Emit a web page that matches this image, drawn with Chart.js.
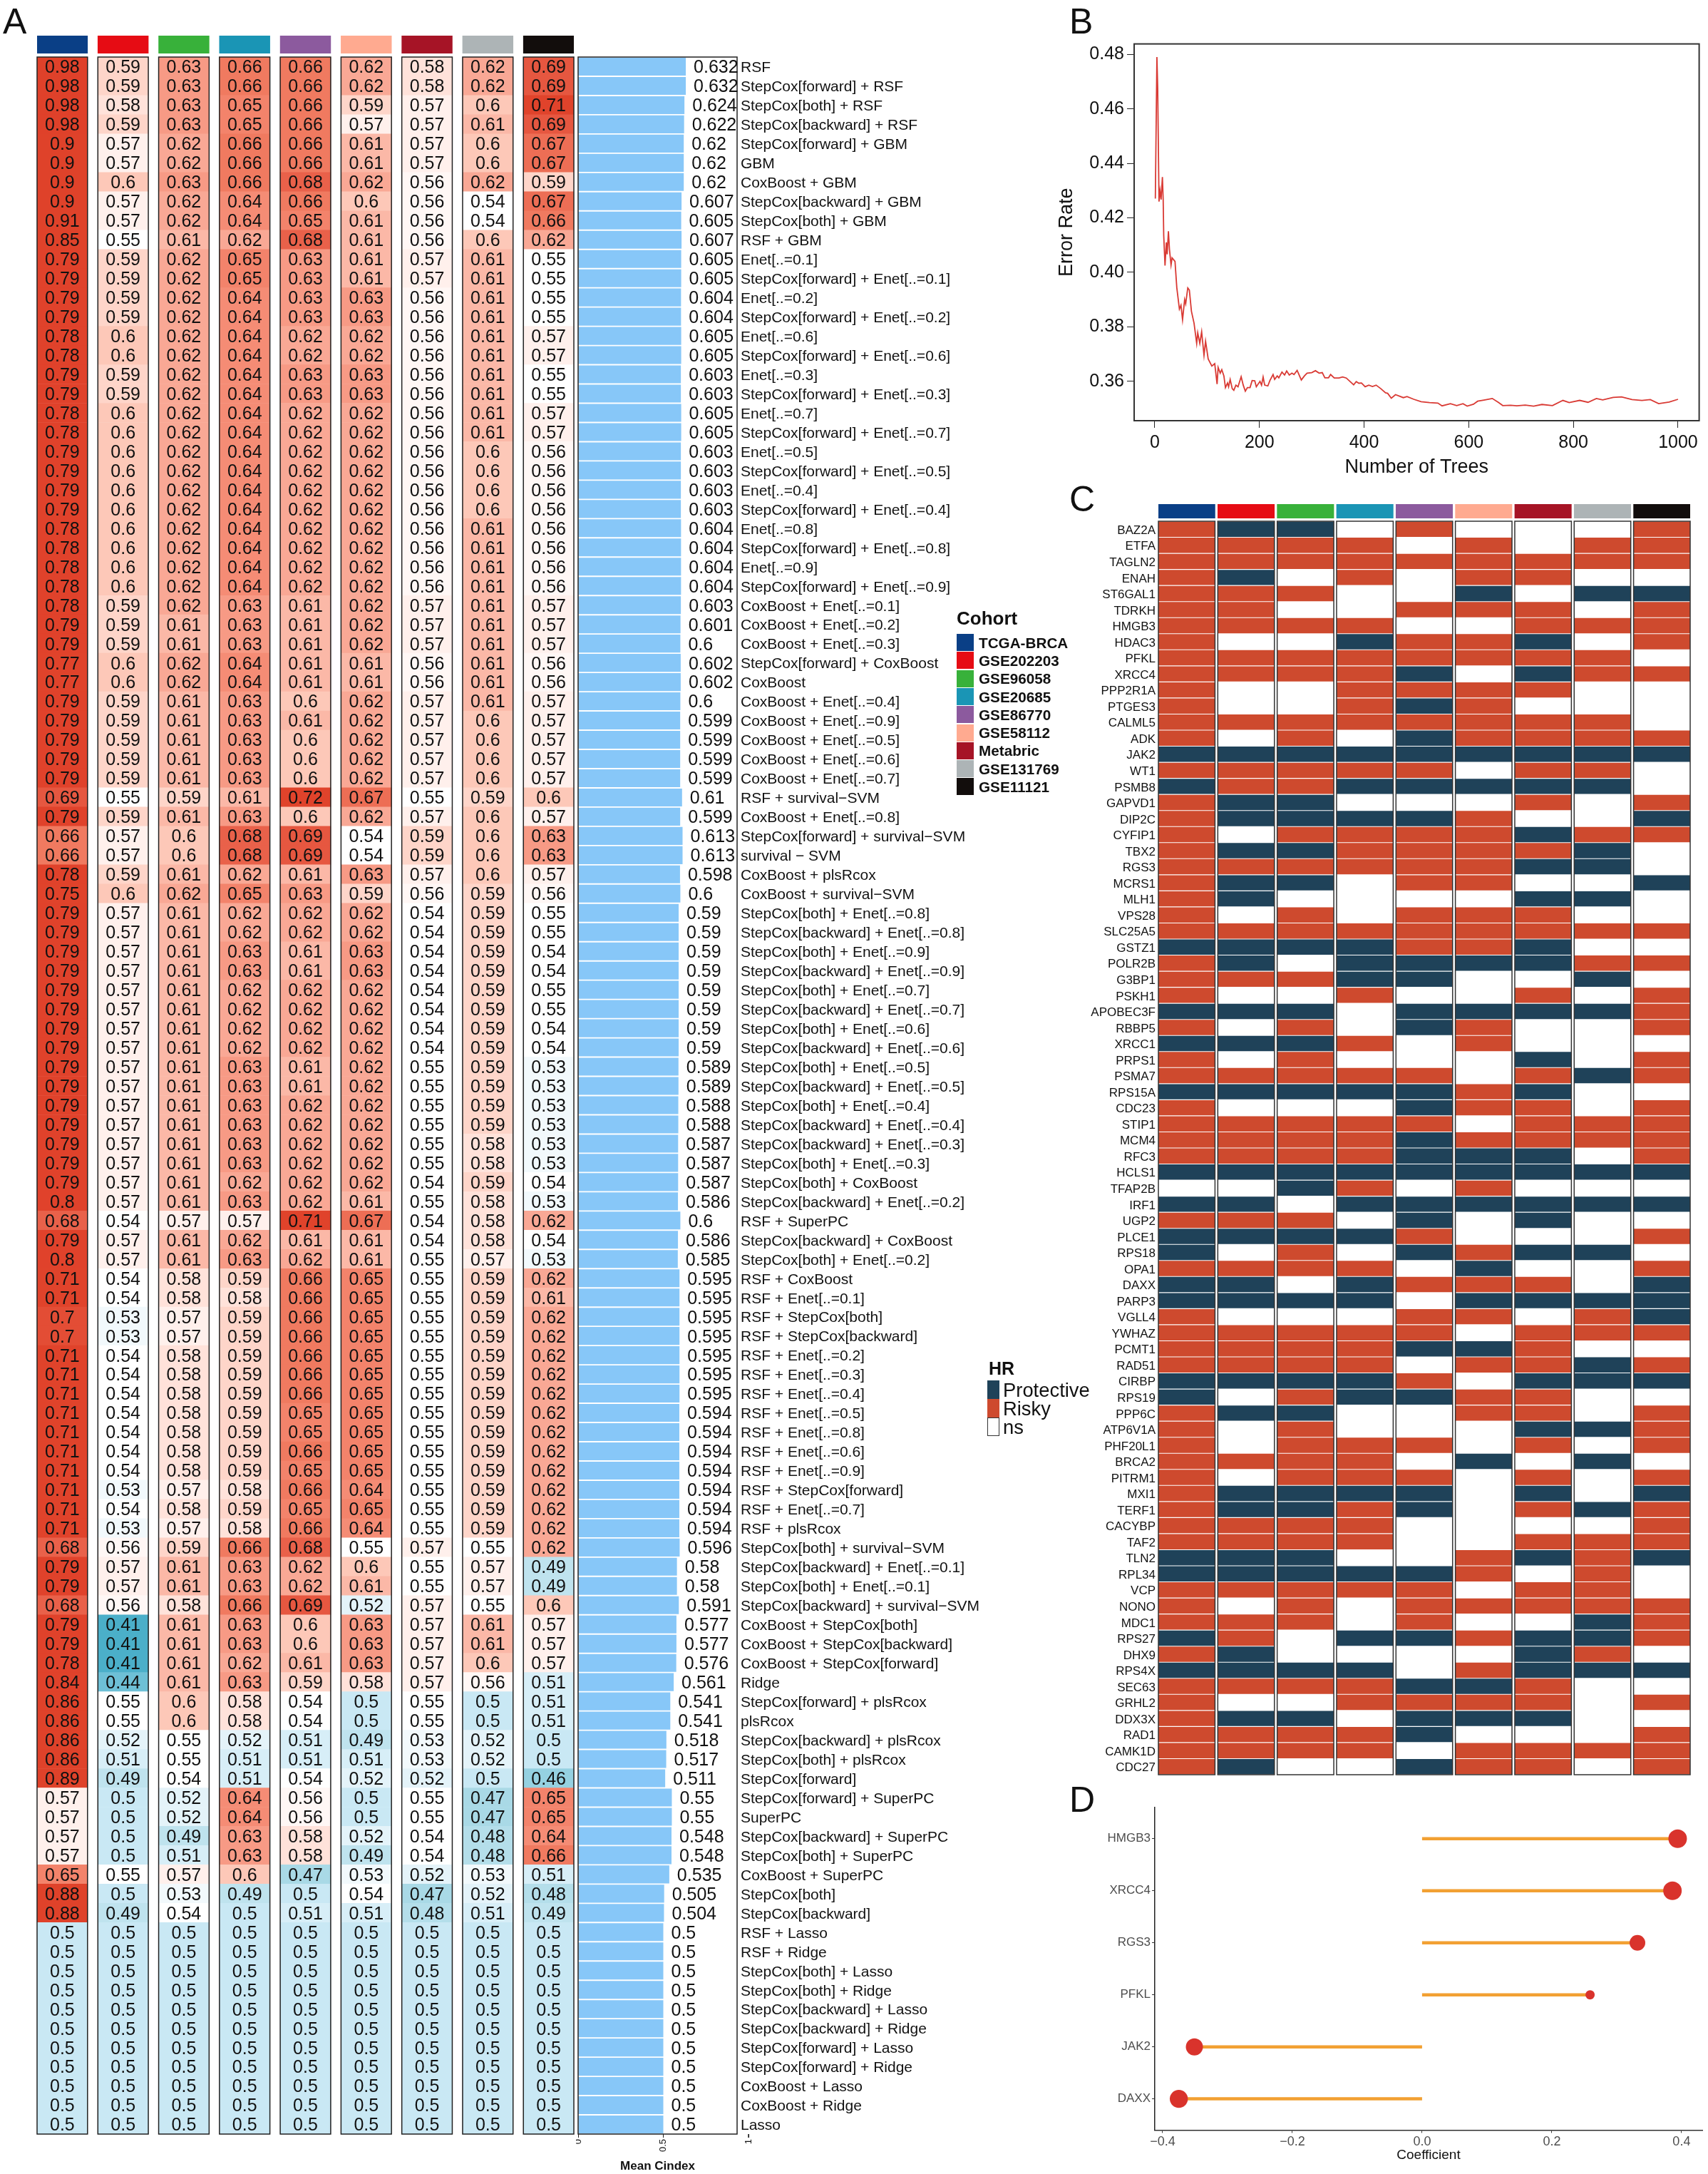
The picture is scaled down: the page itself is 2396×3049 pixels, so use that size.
<!doctype html>
<html lang="en">

<head>
    <meta charset="utf-8">
    <title>Prognostic model benchmark</title>
    <style>
        * {
            margin: 0;
            padding: 0;
            font-family: "Liberation Sans", sans-serif;
        }

        body {
            width: 2396px;
            height: 3049px;
            background: white;
            position: relative;
            overflow: hidden;
        }

        canvas {
            position: absolute;
        }

        .txt {
            position: absolute;
            white-space: nowrap;
            color: #111;
            line-height: 1;
        }

        .swatch {
            position: absolute;
        }
    </style>
</head>

<body>
    <canvas id="stripA"></canvas>
    <canvas id="heatA"></canvas>
    <canvas id="meanA"></canvas>
    <canvas id="lineB"></canvas>
    <canvas id="stripC"></canvas>
    <canvas id="heatC"></canvas>
    <canvas id="lollipopD"></canvas>

    <script src="https://cdn.jsdelivr.net/npm/chart.js"></script>

    <script>
        // panel A
        const cohorts = ['TCGA-BRCA', 'GSE202203', 'GSE96058', 'GSE20685', 'GSE86770', 'GSE58112', 'Metabric', 'GSE131769', 'GSE11121']
        const cohortColors = ['#0A3F86', '#E60C14', '#38B13A', '#1A95B5', '#8C5A9E', '#FFAA90', '#A61426', '#ADB4B6', '#120D0C']

        const models = [
            'RSF', 'StepCox[forward] + RSF', 'StepCox[both] + RSF', 'StepCox[backward] + RSF', 'StepCox[forward] + GBM', 'GBM',
            'CoxBoost + GBM', 'StepCox[backward] + GBM', 'StepCox[both] + GBM', 'RSF + GBM',
            'Enet[..=0.1]', 'StepCox[forward] + Enet[..=0.1]', 'Enet[..=0.2]', 'StepCox[forward] + Enet[..=0.2]',
            'Enet[..=0.6]', 'StepCox[forward] + Enet[..=0.6]', 'Enet[..=0.3]', 'StepCox[forward] + Enet[..=0.3]',
            'Enet[..=0.7]', 'StepCox[forward] + Enet[..=0.7]', 'Enet[..=0.5]', 'StepCox[forward] + Enet[..=0.5]',
            'Enet[..=0.4]', 'StepCox[forward] + Enet[..=0.4]', 'Enet[..=0.8]', 'StepCox[forward] + Enet[..=0.8]',
            'Enet[..=0.9]', 'StepCox[forward] + Enet[..=0.9]', 'CoxBoost + Enet[..=0.1]', 'CoxBoost + Enet[..=0.2]',
            'CoxBoost + Enet[..=0.3]', 'StepCox[forward] + CoxBoost', 'CoxBoost', 'CoxBoost + Enet[..=0.4]', 'CoxBoost + Enet[..=0.9]',
            'CoxBoost + Enet[..=0.5]', 'CoxBoost + Enet[..=0.6]', 'CoxBoost + Enet[..=0.7]', 'RSF + survival−SVM', 'CoxBoost + Enet[..=0.8]',
            'StepCox[forward] + survival−SVM', 'survival − SVM', 'CoxBoost + plsRcox', 'CoxBoost + survival−SVM',
            'StepCox[both] + Enet[..=0.8]', 'StepCox[backward] + Enet[..=0.8]', 'StepCox[both] + Enet[..=0.9]', 'StepCox[backward] + Enet[..=0.9]',
            'StepCox[both] + Enet[..=0.7]', 'StepCox[backward] + Enet[..=0.7]', 'StepCox[both] + Enet[..=0.6]', 'StepCox[backward] + Enet[..=0.6]',
            'StepCox[both] + Enet[..=0.5]', 'StepCox[backward] + Enet[..=0.5]', 'StepCox[both] + Enet[..=0.4]', 'StepCox[backward] + Enet[..=0.4]',
            'StepCox[backward] + Enet[..=0.3]', 'StepCox[both] + Enet[..=0.3]', 'StepCox[both] + CoxBoost', 'StepCox[backward] + Enet[..=0.2]',
            'RSF + SuperPC', 'StepCox[backward] + CoxBoost', 'StepCox[both] + Enet[..=0.2]', 'RSF + CoxBoost', 'RSF + Enet[..=0.1]',
            'RSF + StepCox[both]', 'RSF + StepCox[backward]', 'RSF + Enet[..=0.2]', 'RSF + Enet[..=0.3]', 'RSF + Enet[..=0.4]', 'RSF + Enet[..=0.5]',
            'RSF + Enet[..=0.8]', 'RSF + Enet[..=0.6]', 'RSF + Enet[..=0.9]', 'RSF + StepCox[forward]', 'RSF + Enet[..=0.7]', 'RSF + plsRcox',
            'StepCox[both] + survival−SVM', 'StepCox[backward] + Enet[..=0.1]', 'StepCox[both] + Enet[..=0.1]', 'StepCox[backward] + survival−SVM',
            'CoxBoost + StepCox[both]', 'CoxBoost + StepCox[backward]', 'CoxBoost + StepCox[forward]', 'Ridge', 'StepCox[forward] + plsRcox', 'plsRcox',
            'StepCox[backward] + plsRcox', 'StepCox[both] + plsRcox', 'StepCox[forward]', 'StepCox[forward] + SuperPC', 'SuperPC',
            'StepCox[backward] + SuperPC', 'StepCox[both] + SuperPC', 'CoxBoost + SuperPC', 'StepCox[both]', 'StepCox[backward]',
            'RSF + Lasso', 'RSF + Ridge', 'StepCox[both] + Lasso', 'StepCox[both] + Ridge', 'StepCox[backward] + Lasso', 'StepCox[backward] + Ridge',
            'StepCox[forward] + Lasso', 'StepCox[forward] + Ridge', 'CoxBoost + Lasso', 'CoxBoost + Ridge', 'Lasso'
        ]

        // one row per model, one value per cohort
        const cindex = [
            [.98, .59, .63, .66, .66, .62, .58, .62, .69], [.98, .59, .63, .66, .66, .62, .58, .62, .69],
            [.98, .58, .63, .65, .66, .59, .57, .6, .71], [.98, .59, .63, .65, .66, .57, .57, .61, .69],
            [.9, .57, .62, .66, .66, .61, .57, .6, .67], [.9, .57, .62, .66, .66, .61, .57, .6, .67],
            [.9, .6, .63, .66, .68, .62, .56, .62, .59], [.9, .57, .62, .64, .66, .6, .56, .54, .67],
            [.91, .57, .62, .64, .65, .61, .56, .54, .66], [.85, .55, .61, .62, .68, .61, .56, .6, .62],
            [.79, .59, .62, .65, .63, .61, .57, .61, .55], [.79, .59, .62, .65, .63, .61, .57, .61, .55],
            [.79, .59, .62, .64, .63, .63, .56, .61, .55], [.79, .59, .62, .64, .63, .63, .56, .61, .55],
            [.78, .6, .62, .64, .62, .62, .56, .61, .57], [.78, .6, .62, .64, .62, .62, .56, .61, .57],
            [.79, .59, .62, .64, .63, .63, .56, .61, .55], [.79, .59, .62, .64, .63, .63, .56, .61, .55],
            [.78, .6, .62, .64, .62, .62, .56, .61, .57], [.78, .6, .62, .64, .62, .62, .56, .61, .57],
            [.79, .6, .62, .64, .62, .62, .56, .6, .56], [.79, .6, .62, .64, .62, .62, .56, .6, .56],
            [.79, .6, .62, .64, .62, .62, .56, .6, .56], [.79, .6, .62, .64, .62, .62, .56, .6, .56],
            [.78, .6, .62, .64, .62, .62, .56, .61, .56], [.78, .6, .62, .64, .62, .62, .56, .61, .56],
            [.78, .6, .62, .64, .62, .62, .56, .61, .56], [.78, .6, .62, .64, .62, .62, .56, .61, .56],
            [.78, .59, .62, .63, .61, .62, .57, .61, .57], [.79, .59, .61, .63, .61, .62, .57, .61, .57],
            [.79, .59, .61, .63, .61, .62, .57, .61, .57], [.77, .6, .62, .64, .61, .61, .56, .61, .56],
            [.77, .6, .62, .64, .61, .61, .56, .61, .56], [.79, .59, .61, .63, .6, .62, .57, .61, .57],
            [.79, .59, .61, .63, .61, .62, .57, .6, .57], [.79, .59, .61, .63, .6, .62, .57, .6, .57],
            [.79, .59, .61, .63, .6, .62, .57, .6, .57], [.79, .59, .61, .63, .6, .62, .57, .6, .57],
            [.69, .55, .59, .61, .72, .67, .55, .59, .6], [.79, .59, .61, .63, .6, .62, .57, .6, .57],
            [.66, .57, .6, .68, .69, .54, .59, .6, .63], [.66, .57, .6, .68, .69, .54, .59, .6, .63],
            [.78, .59, .61, .62, .61, .63, .57, .6, .57], [.75, .6, .62, .65, .63, .59, .56, .59, .56],
            [.79, .57, .61, .62, .62, .62, .54, .59, .55], [.79, .57, .61, .62, .62, .62, .54, .59, .55],
            [.79, .57, .61, .63, .61, .63, .54, .59, .54], [.79, .57, .61, .63, .61, .63, .54, .59, .54],
            [.79, .57, .61, .62, .62, .62, .54, .59, .55], [.79, .57, .61, .62, .62, .62, .54, .59, .55],
            [.79, .57, .61, .62, .62, .62, .54, .59, .54], [.79, .57, .61, .62, .62, .62, .54, .59, .54],
            [.79, .57, .61, .63, .61, .62, .55, .59, .53], [.79, .57, .61, .63, .61, .62, .55, .59, .53],
            [.79, .57, .61, .63, .62, .62, .55, .59, .53], [.79, .57, .61, .63, .62, .62, .55, .59, .53],
            [.79, .57, .61, .63, .62, .62, .55, .58, .53], [.79, .57, .61, .63, .62, .62, .55, .58, .53],
            [.79, .57, .61, .62, .62, .62, .54, .59, .54], [.8, .57, .61, .63, .62, .61, .55, .58, .53],
            [.68, .54, .57, .57, .71, .67, .54, .58, .62], [.79, .57, .61, .62, .61, .61, .54, .58, .54],
            [.8, .57, .61, .63, .62, .61, .55, .57, .53], [.71, .54, .58, .59, .66, .65, .55, .59, .62],
            [.71, .54, .58, .58, .66, .65, .55, .59, .61], [.7, .53, .57, .59, .66, .65, .55, .59, .62],
            [.7, .53, .57, .59, .66, .65, .55, .59, .62], [.71, .54, .58, .59, .66, .65, .55, .59, .62],
            [.71, .54, .58, .59, .66, .65, .55, .59, .62], [.71, .54, .58, .59, .66, .65, .55, .59, .62],
            [.71, .54, .58, .59, .65, .65, .55, .59, .62], [.71, .54, .58, .59, .65, .65, .55, .59, .62],
            [.71, .54, .58, .59, .66, .65, .55, .59, .62], [.71, .54, .58, .59, .65, .65, .55, .59, .62],
            [.71, .53, .57, .58, .66, .64, .55, .59, .62], [.71, .54, .58, .59, .65, .65, .55, .59, .62],
            [.71, .53, .57, .58, .66, .64, .55, .59, .62], [.68, .56, .59, .66, .68, .55, .57, .55, .62],
            [.79, .57, .61, .63, .62, .6, .55, .57, .49], [.79, .57, .61, .63, .62, .61, .55, .57, .49],
            [.68, .56, .58, .66, .69, .52, .57, .55, .6], [.79, .41, .61, .63, .6, .63, .57, .61, .57],
            [.79, .41, .61, .63, .6, .63, .57, .61, .57], [.78, .41, .61, .62, .61, .63, .57, .6, .57],
            [.84, .44, .61, .63, .59, .58, .57, .56, .51], [.86, .55, .6, .58, .54, .5, .55, .5, .51],
            [.86, .55, .6, .58, .54, .5, .55, .5, .51], [.86, .52, .55, .52, .51, .49, .53, .52, .5],
            [.86, .51, .55, .51, .51, .51, .53, .52, .5], [.89, .49, .54, .51, .54, .52, .52, .5, .46],
            [.57, .5, .52, .64, .56, .5, .55, .47, .65], [.57, .5, .52, .64, .56, .5, .55, .47, .65],
            [.57, .5, .49, .63, .58, .52, .54, .48, .64], [.57, .5, .51, .63, .58, .49, .54, .48, .66],
            [.65, .55, .57, .6, .47, .53, .52, .53, .51], [.88, .5, .53, .49, .5, .54, .47, .52, .48],
            [.88, .49, .54, .5, .51, .51, .48, .51, .49], [.5, .5, .5, .5, .5, .5, .5, .5, .5],
            [.5, .5, .5, .5, .5, .5, .5, .5, .5], [.5, .5, .5, .5, .5, .5, .5, .5, .5],
            [.5, .5, .5, .5, .5, .5, .5, .5, .5], [.5, .5, .5, .5, .5, .5, .5, .5, .5],
            [.5, .5, .5, .5, .5, .5, .5, .5, .5], [.5, .5, .5, .5, .5, .5, .5, .5, .5],
            [.5, .5, .5, .5, .5, .5, .5, .5, .5], [.5, .5, .5, .5, .5, .5, .5, .5, .5],
            [.5, .5, .5, .5, .5, .5, .5, .5, .5], [.5, .5, .5, .5, .5, .5, .5, .5, .5]
        ]

        const meanCindex = [
            .632, .632, .624, .622, .62, .62, .62, .607, .605, .607,
            .605, .605, .604, .604, .605, .605, .603, .603, .605, .605,
            .603, .603, .603, .603, .604, .604, .604, .604, .603, .601,
            .6, .602, .602, .6, .599, .599, .599, .599, .61, .599,
            .613, .613, .598, .6, .59, .59, .59, .59, .59, .59,
            .59, .59, .589, .589, .588, .588, .587, .587, .587, .586,
            .6, .586, .585, .595, .595, .595, .595, .595, .595, .595,
            .594, .594, .594, .594, .594, .594, .594, .596, .58, .58,
            .591, .577, .577, .576, .561, .541, .541, .518, .517, .511,
            .55, .55, .548, .548, .535, .505, .504, .5, .5, .5,
            .5, .5, .5, .5, .5, .5, .5, .5
        ]
        const meanTicks = [0, 0.5, 1]

        // panel B
        const treeCounts = [
            1, 4, 5.5, 8, 10, 12, 14.5, 16, 17, 19.5, 22, 23.6, 26, 28, 31, 33, 38.6, 42, 47, 50, 53, 57, 59, 63, 66, 70, 75, 80, 82, 86,
            89.5, 94, 97, 102, 109, 114.5, 119, 121, 125, 128, 132, 135, 139, 141, 144, 148, 151, 155, 159, 165, 169, 173, 177, 182, 186,
            191, 194, 201, 204, 207, 210, 216, 220, 226, 229, 234, 237, 243, 248, 252, 257, 262, 266, 272, 280, 286, 291, 300, 307, 314,
            320, 325, 332, 336, 343, 352, 359, 366, 380, 385, 390, 395, 402, 409, 416, 423, 432, 441, 445, 452, 460, 475, 482, 495,
            509, 525, 541, 549, 565, 577, 589, 597, 609, 617, 629, 645, 657, 665, 680, 692, 708, 724, 740, 760, 780, 792, 812, 828, 844,
            856, 876, 892, 912, 931, 947, 963, 983, 1000
        ]
        const errorRates = [
            .4271, .479, .4677, .426, .43, .4267, .435, .4267, .4136, .4025, .411, .4066, .4151, .4084, .4027, .4053, .404, .3944, .3865, .3879,
            .3826, .39, .3885, .3943, .3935, .3857, .3813, .3739, .3778, .3739, .3782, .3695, .3747, .3682, .3656, .3665, .359, .3651, .363,
            .3643, .362, .3577, .3594, .358, .3607, .3573, .3567, .3586, .358, .3617, .3586, .3564, .3577, .3577, .3603, .3602, .358, .36, .3586,
            .3616, .3586, .3583, .3603, .3625, .3607, .362, .3613, .3634, .3623, .3638, .3623, .363, .3625, .364, .3605, .362, .363, .3632, .3639,
            .363, .3632, .3613, .3613, .3625, .3612, .3612, .3616, .3612, .3587, .3599, .3593, .3594, .358, .3586, .3581, .3586, .3573, .3558,
            .3556, .3538, .3551, .354, .3544, .3534, .3525, .3522, .352, .351, .3518, .3511, .3518, .3509, .3516, .3527, .3531, .3537, .3522,
            .3511, .3512, .351, .3513, .3509, .3515, .3511, .353, .3522, .353, .3523, .3537, .3532, .3541, .3543, .3533, .353, .3533, .3518, .3524, .3534
        ]
        const treeTicks = [0, 200, 400, 600, 800, 1000]
        const errorTicks = [0.36, 0.38, 0.4, 0.42, 0.44, 0.46, 0.48]

        // panel C, one letter per cohort: R risky, P protective, N ns
        const genes = [
            'BAZ2A', 'ETFA', 'TAGLN2', 'ENAH', 'ST6GAL1', 'TDRKH', 'HMGB3', 'HDAC3', 'PFKL', 'XRCC4', 'PPP2R1A', 'PTGES3', 'CALML5', 'ADK', 'JAK2', 'WT1',
            'PSMB8', 'GAPVD1', 'DIP2C', 'CYFIP1', 'TBX2', 'RGS3', 'MCRS1', 'MLH1', 'VPS28', 'SLC25A5', 'GSTZ1', 'POLR2B', 'G3BP1', 'PSKH1', 'APOBEC3F', 'RBBP5',
            'XRCC1', 'PRPS1', 'PSMA7', 'RPS15A', 'CDC23', 'STIP1', 'MCM4', 'RFC3', 'HCLS1', 'TFAP2B', 'IRF1', 'UGP2', 'PLCE1', 'RPS18', 'OPA1', 'DAXX', 'PARP3',
            'VGLL4', 'YWHAZ', 'PCMT1', 'RAD51', 'CIRBP', 'RPS19', 'PPP6C', 'ATP6V1A', 'PHF20L1', 'BRCA2', 'PITRM1', 'MXI1', 'TERF1', 'CACYBP', 'TAF2', 'TLN2',
            'RPL34', 'VCP', 'NONO', 'MDC1', 'RPS27', 'DHX9', 'RPS4X', 'SEC63', 'GRHL2', 'DDX3X', 'RAD1', 'CAMK1D', 'CDC27'
        ]
        const hrCalls = [
            'RPPNRNNNR', 'RRRRNRNRR', 'RRRRRRRRR', 'RPNRNRRNN', 'RRRNNPNPP', 'RRNNRRRNR', 'RRRRNNRRR', 'RNNPRRPNR', 'RRRRRRRRN', 'RRRRPNPRR',
            'RNNRRRRNN', 'RNNRPRNNN', 'RRRRRRRRN', 'RNRNPRRRR', 'PPPPPPPPP', 'RRRRRNRRN', 'PRRPPPPPN', 'RPPNNNRNR', 'RPPPPRNNP', 'RNRRRRPRR',
            'RPPRRRRPN', 'RRRRRRPPN', 'RPPNRRNNP', 'RPNNNNPPN', 'RNRNRRRNN', 'RRRRRRRRR', 'PPPPRRPNN', 'RPNPPPPRR', 'RRRPPNNPN', 'RNNRNNRNR',
            'PPPNPPPPR', 'RNRNPRNNR', 'PPPRNRNNN', 'RNRNNNPNR', 'RRRRRNRPR', 'PPPPPRPNN', 'RNNNPRRNR', 'RRRRRNRRR', 'RRRRPRRRR', 'RRRRPPPNR',
            'PPPPPPPPP', 'NNPRNRNNN', 'PPNPPPPPP', 'RRRNPNPNN', 'PPPPRNNNR', 'PNRNPRPPN', 'RRRRNPNNR', 'PPNPRRRNP', 'PPPPNPPPP', 'RNNNRRNRP',
            'RRRRRNRRR', 'RRRRPPRNN', 'RRRRNRRPR', 'PPPPRNPPP', 'PNRPPRRNN', 'RPPNNRRNR', 'RNRNNNPPR', 'RNRRRNRNR', 'RRRRNPNPN', 'RNRRRNRNR',
            'RPPPPNPNP', 'RPPRPNRPR', 'RRRRNNNNR', 'RRRRNNRRR', 'PPPNNRPRP', 'PPPPPRNRN', 'RRRRRNRRN', 'RNRNRRRRR', 'RRRNRNNPR', 'PRNPPRPPR',
            'RPNNNNPRN', 'PPPPNRPPP', 'RRRRPPRNN', 'RNNRRRRNR', 'RPPNPPPNN', 'RRRRPNNNR', 'RRRRNRRRR', 'RPNNPRRNR'
        ]
        const hrKeys = ['Protective', 'Risky', 'ns']
        const hrColors = ['#1F4259', '#CE4A2E', '#FFFFFF']

        // panel D
        const lassoGenes = ['HMGB3', 'XRCC4', 'RGS3', 'PFKL', 'JAK2', 'DAXX']
        const coefficients = [0.394, 0.386, 0.332, 0.259, -0.351, -0.375]
        const dotRadius = [13, 13, 11, 6.5, 12, 12.7]
        const coefTicks = [-0.4, -0.2, 0, 0.2, 0.4]

        const FONT = '"Liberation Sans", sans-serif'
        Chart.defaults.font.family = FONT
        Chart.defaults.color = '#111'

        // white at about 0.55, blue below and red above, saturates near 0.72
        const heatStops = [
            [.41, [75, 175, 201]], [.44, [110, 192, 214]], [.47, [169, 217, 230]], [.49, [191, 227, 238]], [.5, [201, 232, 244]],
            [.52, [228, 243, 249]], [.54, [255, 255, 255]], [.55, [255, 255, 255]], [.57, [255, 240, 236]], [.58, [255, 226, 218]],
            [.6, [253, 200, 184]], [.62, [249, 168, 149]], [.64, [245, 140, 117]], [.66, [240, 122, 96]], [.68, [233, 97, 74]],
            [.71, [224, 67, 43]], [.98, [223, 65, 42]]
        ]

        function heatColor(v) {
            for (let i = 1; i < heatStops.length; i++) {
                if (v <= heatStops[i][0] + 1e-9) {
                    const [a, ca] = heatStops[i - 1]
                    const [b, cb] = heatStops[i]
                    const t = (v - a) / (b - a)
                    const c = ca.map((k, n) => Math.round(k + (cb[n] - k) * t))
                    return `rgb(${c[0]},${c[1]},${c[2]})`
                }
            }
            return 'rgb(223,65,42)'
        }

        function place(id, left, top, width, height) {
            const c = document.getElementById(id)
            c.width = width
            c.height = height
            c.style.left = left + 'px'
            c.style.top = top + 'px'
            return c
        }

        // pin a scale's box so the plot area lands where the reference has it
        function pin(size) {
            return s => {
                if (s.isHorizontal()) s.height = size
                else s.width = size
                s.paddingLeft = s.paddingRight = s.paddingTop = s.paddingBottom = 0
            }
        }

        const baseOptions = {
            responsive: false,
            animation: false,
            devicePixelRatio: 1,
            plugins: { legend: { display: false }, tooltip: { enabled: false } }
        }

        // strokes one box per cohort column, around floating bars
        const columnFrames = {
            id: 'columnFrames',
            afterDatasetsDraw(chart, args, opts) {
                const { ctx, chartArea, scales } = chart
                ctx.save()
                ctx.strokeStyle = opts.color
                ctx.lineWidth = opts.width
                for (let j = 0; j < opts.count; j++) {
                    const x0 = scales.x.getPixelForValue(j)
                    const x1 = scales.x.getPixelForValue(j + opts.cell)
                    ctx.strokeRect(x0, chartArea.top, x1 - x0, chartArea.bottom - chartArea.top)
                }
                ctx.restore()
            }
        }

        // grid of floating bars, one dataset per cohort
        function cellDatasets(rowCount, cell, colorFor, gap) {
            return cohorts.map((name, j) => ({
                label: name,
                data: Array.from({ length: rowCount }, () => [j, j + cell]),
                backgroundColor: Array.from({ length: rowCount }, (_, i) => colorFor(i, j)),
                grouped: false,
                barPercentage: gap,
                categoryPercentage: 1
            }))
        }

        function stripChart(id, left, top, width, height, cell) {
            return new Chart(place(id, left, top, width, height), {
                type: 'bar',
                data: { labels: ['Cohort'], datasets: cellDatasets(1, cell, (i, j) => cohortColors[j], 1) },
                options: {
                    ...baseOptions,
                    indexAxis: 'y',
                    scales: {
                        x: { display: false, min: 0, max: 8 + cell },
                        y: { display: false }
                    }
                }
            })
        }

        // panel A heatmap
        const CELL_A = 0.83
        stripChart('stripA', 52, 50, 753, 25, CELL_A)

        const cellText = {
            id: 'cellText',
            afterDatasetsDraw(chart) {
                const { ctx, scales } = chart
                ctx.save()
                ctx.font = `25px ${FONT}`
                ctx.fillStyle = '#111'
                ctx.textAlign = 'center'
                ctx.textBaseline = 'middle'
                cindex.forEach((row, i) => {
                    row.forEach((v, j) => {
                        ctx.fillText(String(v), scales.x.getPixelForValue(j + CELL_A / 2), scales.y.getPixelForValue(i) + 2)
                    })
                })
                ctx.restore()
            }
        }

        new Chart(place('heatA', 50, 78, 757, 2917), {
            type: 'bar',
            data: { labels: models, datasets: cellDatasets(models.length, CELL_A, (i, j) => heatColor(cindex[i][j]), 1) },
            options: {
                ...baseOptions,
                indexAxis: 'y',
                layout: { padding: 2 },
                plugins: { ...baseOptions.plugins, columnFrames: { count: 9, cell: CELL_A, color: '#222', width: 1.5 } },
                scales: {
                    x: { display: false, min: 0, max: 8 + CELL_A },
                    y: { display: false }
                }
            },
            plugins: [columnFrames, cellText]
        })

        // panel A mean bars
        const meanExtras = {
            id: 'meanExtras',
            afterDatasetsDraw(chart) {
                const { ctx, chartArea, scales } = chart
                ctx.save()
                ctx.strokeStyle = '#222'
                ctx.lineWidth = 1.5
                ctx.strokeRect(chartArea.left, chartArea.top, chartArea.right - chartArea.left, chartArea.bottom - chartArea.top)
                // the "1" tick sits past the frame
                const xOne = scales.x.getPixelForValue(1)
                ctx.beginPath()
                ctx.moveTo(xOne, chartArea.bottom)
                ctx.lineTo(xOne, chartArea.bottom + 5)
                ctx.stroke()
                ctx.font = `25px ${FONT}`
                ctx.fillStyle = '#111'
                ctx.textAlign = 'left'
                ctx.textBaseline = 'middle'
                meanCindex.forEach((v, i) => {
                    ctx.fillText(String(v), scales.x.getPixelForValue(v) + 11, scales.y.getPixelForValue(i) + 2)
                })
                ctx.restore()
            }
        }

        new Chart(place('meanA', 808, 78, 592, 2971), {
            type: 'bar',
            data: {
                labels: models,
                datasets: [{ data: meanCindex, backgroundColor: '#87C7F8', barPercentage: 0.93, categoryPercentage: 1 }]
            },
            options: {
                ...baseOptions,
                indexAxis: 'y',
                layout: { padding: { left: 3, top: 2 } },
                scales: {
                    x: {
                        min: 0,
                        max: 0.933,
                        afterBuildTicks: s => { s.ticks = meanTicks.map(value => ({ value })) },
                        afterFit: pin(56),
                        grid: { drawOnChartArea: false, tickLength: 5, color: '#222' },
                        border: { display: false },
                        ticks: {
                            autoSkip: false,
                            minRotation: 90,
                            maxRotation: 90,
                            padding: 2,
                            font: { size: 13 },
                            callback: v => String(v)
                        },
                        title: { display: true, text: 'Mean Cindex', font: { size: 17, weight: 'bold' }, padding: 0 }
                    },
                    y: {
                        position: 'right',
                        afterFit: pin(366),
                        grid: { display: false, tickLength: 0 },
                        border: { display: false },
                        ticks: { autoSkip: false, padding: 5, labelOffset: 2, font: { size: 21 } }
                    }
                }
            },
            plugins: [meanExtras]
        })

        // panel B
        const boxFrame = {
            id: 'boxFrame',
            afterDatasetsDraw(chart) {
                const { ctx, chartArea } = chart
                ctx.save()
                ctx.strokeStyle = '#333'
                ctx.lineWidth = 2
                ctx.strokeRect(chartArea.left, chartArea.top, chartArea.right - chartArea.left, chartArea.bottom - chartArea.top)
                ctx.restore()
            }
        }

        new Chart(place('lineB', 1480, 50, 916, 622), {
            type: 'line',
            data: {
                datasets: [{
                    data: treeCounts.map((t, i) => ({ x: t, y: errorRates[i] })),
                    borderColor: '#D93A34',
                    borderWidth: 1.8,
                    pointRadius: 0,
                    tension: 0
                }]
            },
            options: {
                ...baseOptions,
                layout: { autoPadding: false, padding: { top: 11.6, right: 12.4 } },
                scales: {
                    x: {
                        type: 'linear',
                        min: -39.5,
                        max: 1040.4,
                        afterBuildTicks: s => { s.ticks = treeTicks.map(value => ({ value })) },
                        afterFit: pin(82),
                        grid: { drawOnChartArea: false, tickLength: 10, color: '#222' },
                        border: { display: false },
                        ticks: { maxRotation: 0, padding: 6, font: { size: 25 }, callback: v => String(v) },
                        title: { display: true, text: 'Number of Trees', font: { size: 27 }, padding: 0 }
                    },
                    y: {
                        min: 0.34555,
                        max: 0.48385,
                        afterBuildTicks: s => { s.ticks = errorTicks.map(value => ({ value })) },
                        afterFit: pin(111),
                        grid: { drawOnChartArea: false, tickLength: 10, color: '#222' },
                        border: { display: false },
                        ticks: { padding: 4, font: { size: 25 }, callback: v => v.toFixed(2) },
                        title: { display: true, text: 'Error Rate', font: { size: 27 }, padding: 0 }
                    }
                }
            },
            plugins: [boxFrame]
        })

        // panel C
        const CELL_C = 0.953
        stripChart('stripC', 1625, 707, 746, 20, CELL_C)

        new Chart(place('heatC', 1500, 730, 873, 1760), {
            type: 'bar',
            data: {
                labels: genes,
                datasets: cellDatasets(genes.length, CELL_C, (i, j) => hrColors['PRN'.indexOf(hrCalls[i][j])], 0.95)
            },
            options: {
                ...baseOptions,
                indexAxis: 'y',
                layout: { padding: { top: 1, right: 2, bottom: 1 } },
                plugins: { ...baseOptions.plugins, columnFrames: { count: 9, cell: CELL_C, color: '#333', width: 1.5 } },
                scales: {
                    x: { display: false, min: 0, max: 8 + CELL_C },
                    y: {
                        afterFit: pin(125),
                        grid: { display: false, tickLength: 0 },
                        border: { display: false },
                        ticks: { autoSkip: false, padding: 4, labelOffset: 2, font: { size: 17 } }
                    }
                }
            },
            plugins: [columnFrames]
        })

        // panel D
        new Chart(place('lollipopD', 1480, 2530, 916, 504), {
            type: 'scatter',
            data: {
                datasets: lassoGenes.map((g, i) => ({
                    label: g,
                    showLine: true,
                    data: [{ x: 0, y: i + 1 }, { x: coefficients[i], y: i + 1 }],
                    borderColor: '#F2A032',
                    borderWidth: 4.5,
                    pointRadius: [0, dotRadius[i]],
                    pointBackgroundColor: '#D9332C',
                    pointBorderWidth: 0
                }))
            },
            options: {
                ...baseOptions,
                layout: { autoPadding: false, padding: { top: 5, right: 8 } },
                scales: {
                    x: {
                        min: -0.412,
                        max: 0.432,
                        afterBuildTicks: s => { s.ticks = coefTicks.map(value => ({ value })) },
                        afterFit: pin(46.6),
                        grid: { drawOnChartArea: false, tickLength: 4, color: '#333' },
                        border: { color: '#333', width: 1.5 },
                        ticks: { maxRotation: 0, padding: 2, color: '#4D4D4D', font: { size: 18 }, callback: v => v.toFixed(1).replace('-', '−') },
                        title: { display: true, text: 'Coefficient', font: { size: 19 }, padding: 0 }
                    },
                    y: {
                        reverse: true,
                        min: 0.4,
                        max: 6.6,
                        afterBuildTicks: s => { s.ticks = lassoGenes.map((g, i) => ({ value: i + 1 })) },
                        afterFit: pin(140),
                        grid: { drawOnChartArea: false, tickLength: 4, color: '#333' },
                        border: { color: '#222', width: 1.5 },
                        ticks: { padding: 2, color: '#4D4D4D', font: { size: 17 }, callback: v => lassoGenes[v - 1] }
                    }
                }
            }
        })

        // legends and panel letters
        function addText(text, left, top, size, bold) {
            const d = document.createElement('div')
            d.className = 'txt'
            d.textContent = text
            d.style.left = left + 'px'
            d.style.top = top - size / 2 + 'px'
            d.style.fontSize = size + 'px'
            if (bold) d.style.fontWeight = 'bold'
            document.body.appendChild(d)
        }

        function addSwatch(color, left, top, width, height, border) {
            const d = document.createElement('div')
            d.className = 'swatch'
            d.style.cssText = `left:${left}px;top:${top}px;width:${width}px;height:${height}px;background:${color};` + (border ? 'border:1px solid #333;box-sizing:border-box;' : '')
            document.body.appendChild(d)
        }

        addText('Cohort', 1342, 867, 26, true)
        cohorts.forEach((name, i) => {
            addSwatch(cohortColors[i], 1342, 889 + i * 25.3, 24, 24)
            addText(name, 1373, 902 + i * 25.3, 20.7, true)
        })

        addText('HR', 1387, 1919, 25, true)
        hrKeys.forEach((name, i) => {
            addSwatch(hrColors[i], 1385, 1936 + i * 26, 17, 26, name === 'ns')
            addText(name, 1407, 1950 + i * 26, 27.4, false)
        })

        addText('A', 4, 30, 50, false)
        addText('B', 1500, 30, 50, false)
        addText('C', 1500, 700, 50, false)
        addText('D', 1500, 2524, 50, false)
    </script>
</body>

</html>
